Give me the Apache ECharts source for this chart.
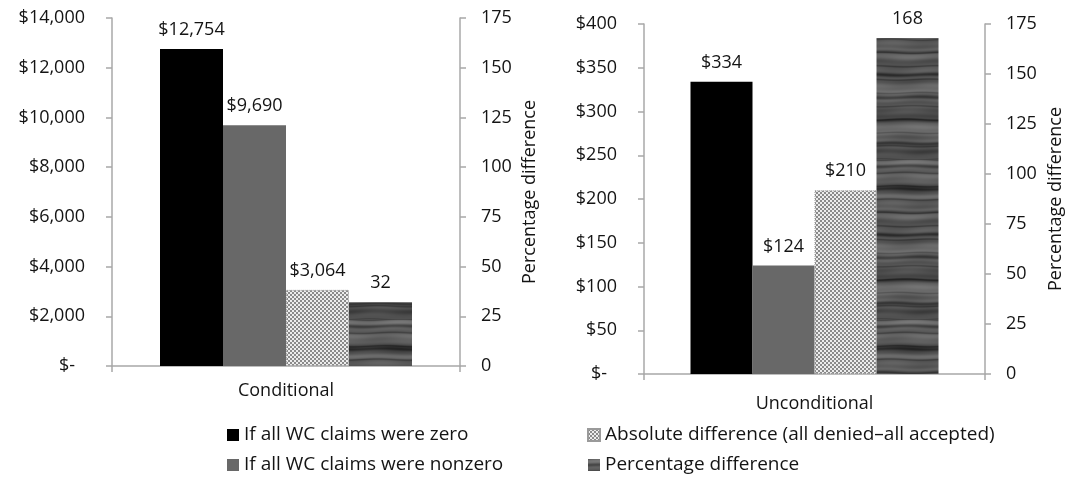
<!DOCTYPE html>
<html>
<head>
<meta charset="utf-8">
<style>
  html, body { margin: 0; padding: 0; background: #fff; }
  #chart { width: 1068px; height: 477px; }
</style>
<script src="https://cdn.jsdelivr.net/npm/echarts@6/dist/echarts.min.js"></script>
</head>
<body>
<div id="chart"></div>
<script>
// Categories (one per panel)
const conditionalCategory = ['Conditional'];
const unconditionalCategory = ['Unconditional'];

// Series names
const seriesNames = [
  'If all WC claims were zero',
  'If all WC claims were nonzero',
  'Absolute difference (all denied\u2013all accepted)',
  'Percentage difference'
];

// Dollar values (zero, nonzero, absolute difference) and percentage difference
const conditionalDollars = [12754, 9690, 3064];
const conditionalPercent = [32];
const unconditionalDollars = [334, 124, 210];
const unconditionalPercent = [168];

// Axis scales
const conditionalDollarAxis = { max: 14000, interval: 2000 };
const unconditionalDollarAxis = { max: 400, interval: 50 };
const percentAxis = { max: 175, interval: 25 };

const FONT = '"Open Sans", "Noto Sans", sans-serif';
const TEXT = '#141414';
const AXIS = '#a8a8a8';

// Fine grey/white checkerboard fill
function makeChecker() {
  const c = document.createElement('canvas');
  c.width = 4; c.height = 4;
  const g = c.getContext('2d');
  g.fillStyle = '#ececec'; g.fillRect(0, 0, 4, 4);
  g.fillStyle = '#8a8a8a';
  g.fillRect(0, 0, 2, 2);
  g.fillRect(2, 2, 2, 2);
  return c;
}

// Dark grey grain made of soft horizontal streaks (tiles seamlessly)
function makeGrain() {
  const w = 64, h = 160;
  const c = document.createElement('canvas');
  c.width = w; c.height = h;
  const g = c.getContext('2d');
  const TAU = Math.PI * 2;
  for (let y = 0; y < h; y++) {
    for (let x = 0; x < w; x++) {
      const ph = x / w * TAU;
      const t = y + 0.6 * Math.sin(ph + y / 17);
      const k = t / h * TAU;
      let v = 88
        + 12 * Math.sin(k * 4)
        + 8 * Math.sin(k * 9 + 1.3)
        + 5 * Math.sin(k * 23 + 0.4)
        + 6 * Math.sin(ph + k * 3) * Math.sin(k * 6 + 0.7)
        - 34 * Math.pow(Math.max(0, Math.sin(k * 7)), 8)
        - 24 * Math.pow(Math.max(0, Math.sin(k * 12 + 2)), 10)
        + 14 * Math.pow(Math.max(0, Math.sin(k * 5 + 0.9)), 6);
      v = Math.max(36, Math.min(136, Math.round(v)));
      g.fillStyle = 'rgb(' + v + ',' + v + ',' + v + ')';
      g.fillRect(x, y, 1, 1);
    }
  }
  return c;
}

const checkerFill = { image: makeChecker(), repeat: 'repeat' };
const grainFill = { image: makeGrain(), repeat: 'repeat' };
const fills = ['#000000', '#686868', checkerFill, grainFill];

function money(v) {
  return '$' + String(v).replace(/\B(?=(\d{3})+(?!\d))/g, ',');
}

function dollarAxis(gridIndex, scale) {
  return {
    type: 'value', gridIndex: gridIndex, min: 0, max: scale.max, interval: scale.interval,
    axisLine: { show: true, lineStyle: { color: AXIS, width: 1.5 } },
    axisTick: { show: true, inside: false, length: 6, lineStyle: { color: AXIS, width: 1.5 } },
    splitLine: { show: false },
    axisLabel: {
      margin: 27, fontFamily: FONT, fontSize: 18, color: TEXT,
      formatter: function (v) { return v === 0 ? '{z|$-}' : money(v); },
      rich: { z: { fontFamily: FONT, fontSize: 18, color: TEXT, padding: [0, 10, 0, 0] } }
    }
  };
}

function pctAxis(gridIndex, gap) {
  return {
    type: 'value', gridIndex: gridIndex, position: 'right',
    min: 0, max: percentAxis.max, interval: percentAxis.interval,
    name: 'Percentage difference', nameLocation: 'middle', nameRotate: 90, nameGap: gap,
    nameTextStyle: { fontFamily: FONT, fontSize: 18, color: TEXT },
    axisLine: { show: true, lineStyle: { color: AXIS, width: 1.5 } },
    axisTick: { show: true, inside: false, length: 6, lineStyle: { color: AXIS, width: 1.5 } },
    splitLine: { show: false },
    axisLabel: { margin: 21, fontFamily: FONT, fontSize: 18, color: TEXT }
  };
}

function catAxis(gridIndex, cats, margin) {
  return {
    type: 'category', gridIndex: gridIndex, data: cats,
    axisLine: { show: true, lineStyle: { color: AXIS, width: 1.5 } },
    axisTick: { show: true, length: 6, lineStyle: { color: AXIS, width: 1.5 } },
    axisLabel: { margin: margin, fontFamily: FONT, fontSize: 18, color: TEXT }
  };
}

function panelSeries(gridIdx, dollars, percent, barWidth) {
  const out = [];
  dollars.forEach(function (v, i) {
    out.push({
      name: seriesNames[i], type: 'bar',
      xAxisIndex: gridIdx, yAxisIndex: gridIdx * 2,
      data: [v], barWidth: barWidth, barGap: '0%',
      itemStyle: i === 2
        ? { color: fills[i], borderColor: '#9a9a9a', borderWidth: 1, borderType: 'dotted' }
        : { color: fills[i] },
      label: {
        show: true, position: 'top', distance: 10,
        fontFamily: FONT, fontSize: 18, color: TEXT,
        formatter: function (p) { return money(p.value); }
      },
      animation: false
    });
  });
  out.push({
    name: seriesNames[3], type: 'bar',
    xAxisIndex: gridIdx, yAxisIndex: gridIdx * 2 + 1,
    data: [percent[0]], barWidth: barWidth, barGap: '0%',
    itemStyle: { color: fills[3] },
    label: {
      show: true, position: 'top', distance: 10,
      fontFamily: FONT, fontSize: 18, color: TEXT,
      formatter: function (p) { return String(p.value); }
    },
    animation: false
  });
  return out;
}

const legendBase = {
  orient: 'vertical', top: 424, itemWidth: 12, itemHeight: 12, itemGap: 8, padding: 0,
  icon: 'rect',
  textStyle: { fontFamily: FONT, fontSize: 19, color: TEXT, lineHeight: 22 }
};

const option = {
  animation: false,
  backgroundColor: '#ffffff',
  grid: [
    { left: 112, right: 608, top: 18, bottom: 111 },
    { left: 644, right: 83, top: 24, bottom: 103 }
  ],
  legend: [
    Object.assign({}, legendBase, { left: 227, data: [seriesNames[0], seriesNames[1]] }),
    Object.assign({}, legendBase, { left: 587, data: [seriesNames[2], seriesNames[3]] })
  ],
  xAxis: [
    catAxis(0, conditionalCategory, 16),
    catAxis(1, unconditionalCategory, 21)
  ],
  yAxis: [
    dollarAxis(0, conditionalDollarAxis),
    pctAxis(0, 61),
    dollarAxis(1, unconditionalDollarAxis),
    pctAxis(1, 62)
  ],
  series: panelSeries(0, conditionalDollars, conditionalPercent, 63)
    .concat(panelSeries(1, unconditionalDollars, unconditionalPercent, 62))
};

const chart = echarts.init(document.getElementById('chart'), null, { renderer: 'canvas' });
chart.setOption(option);
</script>
</body>
</html>
